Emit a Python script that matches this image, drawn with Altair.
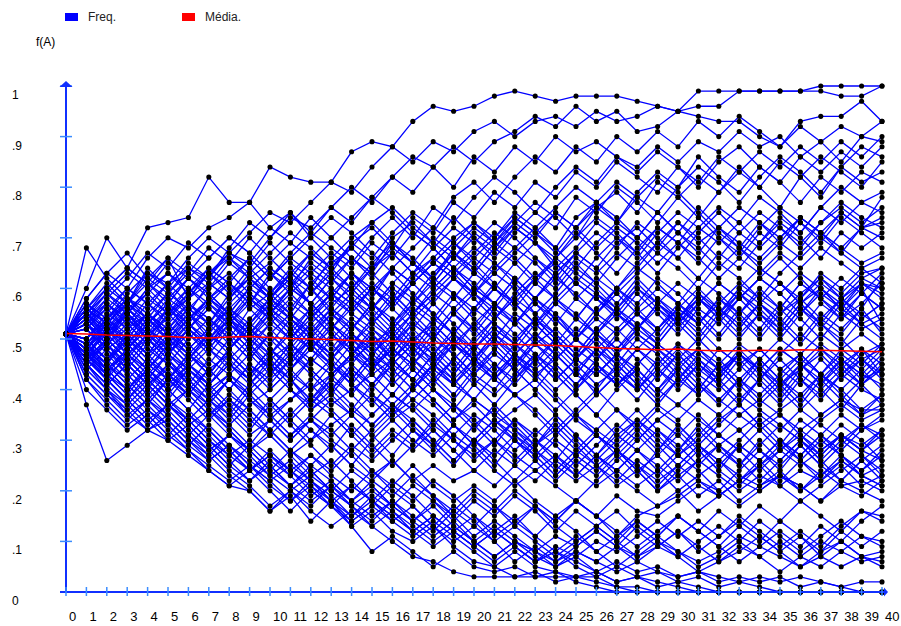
import altair as alt
import pandas as pd

# ---------------- data ----------------
generations = list(range(41))
x_tick_labels = [str(g) for g in generations]
y_tick_values = [0.1, 0.2, 0.3, 0.4, 0.5, 0.6, 0.7, 0.8, 0.9, 1.0]
y_label_values = [0.0, 0.1, 0.2, 0.3, 0.4, 0.5, 0.6, 0.7, 0.8, 0.9, 1.0]
y_label_texts = ["0", ".1", ".2", ".3", ".4", ".5", ".6", ".7", ".8", ".9", "1"]
legend_labels = ["Freq.", "Média."]

# mean frequency (red line)
media = [0.511, 0.510, 0.508, 0.507, 0.506, 0.505, 0.503, 0.502, 0.504, 0.505,
         0.503, 0.501, 0.500, 0.499, 0.497, 0.495, 0.496, 0.494, 0.492, 0.491,
         0.490, 0.490, 0.489, 0.488, 0.487, 0.485, 0.483, 0.481, 0.480, 0.479,
         0.480, 0.478, 0.477, 0.477, 0.478, 0.477, 0.479, 0.478, 0.477, 0.476,
         0.475]

# allele frequency of each population (percent), generations 0..40
a1 = [51,58,63,60,66,70,68,72,74,77, 84,82,81,81,87,89,88,93,96,95, 96,98,99,98,97,98,98,98,97,96, 95,99,99,99,99,99,99,100,100,100, 100]
a2 = [51,55,60,57,63,61,66,70,67,71, 75,73,77,81,79,84,88,85,89,87, 91,93,90,93,94,92,95,93,94,96, 95,96,96,99,99,99,99,99,98,98, 100]
a3 = [51,48,54,58,56,61,64,62,67,65, 70,74,72,76,73,78,82,86,84,88, 85,89,91,94,92,96,93,95,91,92, 95,94,93,93,90,88,93,94,94,97, 93]
b1 = [51,57,54,59,63,60,65,62,68,73, 70,75,71,76,80,77,82,79,84,80, 86,83,88,85,90,87,89,86,84,88, 85,89,87,91,88,90,86,89,92,90, 93]
b2 = [51,46,52,55,50,56,53,58,61,57, 63,60,66,63,69,72,68,74,71,77, 74,79,76,81,78,83,80,85,82,79, 84,81,86,83,87,84,88,85,89,86, 90]
b3 = [51,54,50,56,59,55,60,64,61,66, 62,67,71,68,65,70,74,70,76,73, 78,82,79,75,80,84,81,86,83,87, 84,80,85,88,84,81,86,83,87,84, 88]
b4 = [51,60,70,64,72,73,74,82,77,77, 72,75,70,66,70,73,76,72,69,74, 70,66,71,75,72,78,75,80,77,73, 78,82,79,84,80,85,82,86,83,80, 85]
b5 = [51,52,57,53,49,55,58,63,59,64, 60,56,61,65,68,64,70,73,69,66, 71,68,73,77,74,70,76,79,75,81, 78,74,79,83,80,76,82,78,84,81, 83]
b6 = [51,49,45,51,55,52,57,54,50,56, 59,63,60,66,62,58,64,68,72,69, 73,70,75,72,68,74,77,73,78,75, 80,84,81,77,82,86,83,79,84,88, 86]
b7 = [51,56,61,57,64,60,55,61,58,63, 67,71,68,64,69,66,71,75,72,78, 81,77,82,86,83,88,85,90,87,91, 88,93,90,94,91,88,92,89,85,90, 89]
b8 = [51,50,55,60,57,54,59,63,66,62, 58,63,67,64,60,65,69,66,62,68, 72,69,74,71,67,72,76,73,79,83, 80,86,82,79,84,81,77,82,79,83, 81]
c1 = [51,55,52,48,53,57,62,59,55,60, 64,61,57,62,66,63,69,65,61,66, 70,67,72,69,64,68,73,70,66,71, 75,72,76,73,69,74,71,76,73,77, 75]
c2 = [51,47,43,48,52,49,54,58,55,51, 56,60,57,62,59,64,68,65,70,67, 63,68,65,61,66,70,74,71,67,72, 69,74,70,66,71,68,73,70,75,72, 78]
c3 = [51,56,53,58,55,51,56,53,59,62, 58,54,59,63,60,56,61,65,62,67, 64,69,73,70,75,72,77,74,70,75, 71,76,72,68,73,69,74,71,67,72, 70]
c4 = [51,53,58,62,67,64,69,66,70,67, 72,69,74,70,66,62,67,63,68,72, 69,73,70,66,62,67,64,69,72,68, 73,70,66,71,75,72,68,73,76,73, 76]
c5 = [51,48,53,50,46,51,55,52,57,61, 58,63,60,55,59,56,52,57,61,58, 63,60,65,69,66,71,67,63,68,72, 69,65,70,67,72,76,73,69,74,71, 68]
c6 = [51,54,59,55,60,63,59,64,61,57, 62,66,63,67,64,69,66,71,68,64, 60,65,62,58,63,67,71,68,73,70, 66,71,75,71,68,72,69,73,77,74, 72]
c7 = [51,45,50,54,51,56,52,48,53,57, 54,50,55,59,56,60,57,62,66,63, 59,64,68,65,61,66,63,67,64,69, 73,69,72,76,73,70,74,71,68,72, 74]
c8 = [51,68,62,58,54,59,63,60,65,70, 66,62,67,64,68,73,69,65,61,66, 63,68,72,69,65,61,66,70,67,63, 68,72,69,73,78,75,71,76,80,77, 79]
c9 = [51,50,46,51,47,52,56,53,49,54, 58,55,61,58,63,60,56,61,65,62, 58,54,59,63,60,65,61,66,70,67, 71,68,64,68,65,69,66,70,67,64, 66]
c10 = [51,53,49,45,50,47,52,56,53,58, 55,60,64,61,66,63,59,55,60,64, 61,57,62,58,63,67,64,60,65,69, 66,62,67,64,69,73,70,66,71,68, 71]
c11 = [51,58,63,67,62,66,58,63,67,64, 69,65,62,58,63,59,64,61,57,62, 66,63,67,71,68,64,69,73,70,75, 71,67,72,69,66,70,74,71,75,72, 73]
c12 = [51,49,54,57,53,58,55,50,54,51, 47,52,56,52,57,61,58,63,60,64, 68,65,61,66,63,58,62,59,63,67, 64,60,65,62,58,63,67,71,68,65, 67]
d1 = [51,55,51,56,52,48,53,49,54,58, 55,51,56,60,57,53,58,54,50,55, 59,56,61,57,53,58,55,60,64,61, 57,62,59,55,60,56,61,58,62,59, 63]
d2 = [51,47,52,49,54,50,46,51,48,53, 57,54,50,55,51,47,52,56,53,58, 54,50,55,52,57,61,58,54,59,55, 51,56,53,58,62,59,55,60,57,61, 58]
d3 = [51,54,58,55,51,47,52,56,52,48, 53,57,54,59,55,52,48,53,50,55, 52,48,53,57,54,50,55,52,56,60, 57,53,58,55,51,56,52,57,54,59, 56]
d4 = [51,52,56,60,57,61,57,53,58,62, 59,55,51,56,52,57,54,50,45,50, 46,51,48,53,57,54,59,55,52,57, 54,58,55,51,55,52,57,60,56,53, 55]
d5 = [51,46,42,47,44,49,53,50,55,52, 57,54,50,46,51,48,53,57,54,59, 56,61,57,53,58,55,51,56,52,57, 61,58,54,59,56,52,57,61,58,62, 60]
d6 = [51,56,53,49,45,50,47,43,48,52, 49,54,51,47,52,56,60,57,62,59, 55,60,57,53,49,54,51,47,52,49, 54,58,55,60,57,53,49,54,58,55, 52]
d7 = [51,53,50,55,60,56,52,57,54,49, 44,49,46,51,48,44,49,53,50,55, 51,56,53,58,62,59,55,60,56,52, 57,54,50,55,59,56,61,58,54,57, 61]
d8 = [51,49,53,57,62,59,64,61,66,63, 59,64,60,56,61,57,53,58,55,51, 56,53,49,54,50,46,51,55,52,57, 54,59,56,52,57,53,58,62,59,63, 64]
d9 = [51,55,59,63,60,65,62,58,54,59, 55,60,57,53,49,54,50,55,59,56, 52,57,54,50,55,51,56,60,57,62, 59,55,51,56,52,57,54,50,55,52, 54]
d10 = [51,48,44,40,45,42,47,51,48,53, 50,46,51,55,52,57,53,49,54,51, 56,60,57,62,58,54,59,56,61,57, 53,58,54,50,55,51,56,53,49,54, 57]
d11 = [51,57,54,50,55,52,48,52,56,53, 58,62,59,64,60,56,61,58,63,67, 64,60,56,61,58,62,59,55,60,56, 52,57,61,58,62,59,63,60,56,61, 59]
d12 = [51,50,55,52,57,53,49,45,50,46, 51,55,52,48,53,50,46,42,47,51, 48,53,50,54,51,47,52,56,53,49, 54,50,55,59,55,51,56,52,57,53, 50]
d13 = [51,54,50,46,42,47,51,48,44,49, 53,50,54,58,55,60,56,52,57,53, 49,54,58,55,51,47,52,48,53,50, 55,51,56,53,57,54,50,55,52,56, 62]
d14 = [51,47,51,55,52,56,60,57,61,58, 54,50,55,51,47,52,49,54,58,62, 59,63,60,55,59,64,61,57,62,58, 54,59,55,60,64,61,57,53,58,54, 57]
d15 = [51,53,57,54,50,55,59,63,60,56, 52,48,53,49,45,50,46,51,47,43, 48,52,49,54,50,46,51,48,52,56, 53,49,54,58,54,50,55,59,56,60, 53]
d16 = [51,56,60,64,61,57,62,59,55,51, 56,53,49,54,58,55,51,47,52,48, 53,57,53,58,54,50,46,51,55,52, 56,53,58,54,50,55,58,54,51,56, 51]
d17 = [51,48,52,48,53,57,54,58,55,60, 64,61,65,62,58,54,59,55,51,56, 60,57,62,58,55,50,55,59,55,51, 56,60,56,52,57,61,58,63,60,64, 61]
e1 = [51,49,45,50,46,42,47,43,48,52, 48,44,49,45,41,46,43,48,44,49, 53,49,45,50,47,43,48,44,40,45, 49,46,42,47,44,48,45,41,46,43, 47]
e2 = [51,55,52,48,44,49,45,41,46,42, 47,51,48,53,49,45,50,46,42,38, 43,40,45,49,46,50,47,43,48,44, 40,45,42,47,43,39,44,48,45,41, 44]
e3 = [51,47,43,46,42,47,52,48,53,50, 46,42,37,42,39,44,48,45,50,47, 43,48,44,40,45,41,46,50,46,42, 47,43,48,45,41,37,42,38,43,40, 38]
e4 = [51,53,49,53,58,55,51,47,52,48, 44,49,45,50,54,51,46,42,47,43, 48,52,49,45,50,46,43,47,51,48, 44,40,45,41,46,50,47,43,48,45, 49]
e5 = [51,46,50,54,50,46,41,46,43,47, 51,47,43,39,44,40,45,49,46,42, 38,43,47,44,48,52,49,45,41,46, 42,47,44,40,45,41,37,42,46,43, 41]
e6 = [51,56,52,57,54,50,46,51,47,43, 48,45,50,46,42,47,44,40,45,49, 46,51,47,44,40,44,48,45,50,47, 43,39,43,47,44,48,45,49,46,42, 46]
e7 = [51,50,46,42,46,43,39,44,40,45, 42,46,50,47,51,48,44,40,45,41, 46,43,47,51,48,44,39,43,40,44, 48,44,41,37,42,38,43,40,36,41, 37]
e8 = [51,54,57,53,49,45,50,54,51,47, 43,48,44,40,45,41,46,50,47,52, 48,44,49,46,42,46,50,46,42,38, 42,46,43,48,44,40,45,41,45,48, 43]
e9 = [51,48,53,50,55,51,47,43,48,44, 40,44,49,45,41,37,42,46,43,39, 44,48,44,40,36,40,45,41,45,49, 46,42,38,42,39,43,47,43,40,44, 40]
e10 = [51,52,48,44,49,53,57,54,50,46, 51,47,52,56,53,49,45,49,46,50, 46,42,47,51,47,43,48,52,48,45, 49,45,41,46,42,47,51,48,44,48, 45]
e11 = [51,55,51,47,43,39,44,48,45,41, 46,42,38,42,47,43,39,44,40,36, 41,45,42,47,43,39,35,40,44,40, 45,41,37,42,46,42,38,43,39,35, 39]
e12 = [51,47,52,56,53,57,53,49,54,50, 55,52,48,44,49,53,50,46,51,47, 43,47,44,49,45,41,45,42,38,43, 47,43,40,44,48,44,41,46,42,46, 42]
e13 = [51,49,44,40,44,48,52,49,53,49, 45,41,46,43,47,51,47,52,48,44, 49,45,41,46,50,46,43,47,43,39, 44,40,45,49,46,42,46,43,47,44, 48]
e14 = [51,53,50,46,51,48,44,40,36,41, 45,42,38,43,47,44,48,45,41,46, 42,39,43,47,44,40,44,41,45,49, 46,50,46,42,38,42,39,43,40,36, 36]
e15 = [51,57,53,49,54,50,55,51,56,52, 48,44,48,52,48,45,41,45,49,45, 41,37,42,46,42,46,43,47,44,40, 44,48,45,41,37,41,45,42,38,42, 44]
e16 = [51,46,42,38,43,40,45,42,47,43, 48,44,40,45,42,47,51,48,53,49, 45,50,46,42,47,43,40,45,41,37, 42,39,43,47,44,40,36,40,44,41, 45]
e17 = [51,50,54,51,47,52,48,44,40,45, 41,46,50,47,43,39,35,40,44,41, 45,42,46,43,39,35,39,43,40,44, 41,45,42,38,42,46,42,39,43,47, 49]
f1 = [51,47,43,39,44,40,36,41,37,33, 38,34,30,35,31,35,39,36,32,28, 33,29,34,30,26,31,27,32,36,32, 28,33,29,25,30,26,30,27,31,28, 32]
f2 = [51,45,49,44,40,36,40,37,33,29, 34,30,34,38,35,31,27,32,28,33, 29,25,30,27,31,35,31,27,23,28, 32,28,24,29,26,30,26,23,27,24, 27]
f3 = [51,48,44,48,52,49,45,41,45,42, 38,42,46,43,39,35,39,36,40,36, 32,37,33,29,34,30,26,30,34,31, 27,31,35,32,28,24,29,25,29,33, 30]
f4 = [51,53,48,44,40,45,41,37,42,39, 43,47,44,40,36,41,37,33,29,33, 30,34,31,27,23,27,31,28,32,36, 33,29,25,29,26,22,26,30,27,23, 25]
f5 = [51,44,40,37,41,45,42,38,34,39, 35,31,35,32,28,32,36,32,29,25, 30,26,22,26,30,27,31,28,24,20, 24,28,24,21,25,29,26,22,26,23, 21]
f6 = [51,55,50,46,42,38,43,39,35,40, 44,40,36,40,44,41,45,42,38,34, 38,35,39,35,31,35,32,36,32,28, 33,29,33,37,33,29,34,31,35,32, 34]
f7 = [51,49,45,41,37,42,38,34,38,35, 31,35,39,36,32,28,32,29,33,37, 34,30,26,30,27,23,27,24,28,32, 29,25,29,26,22,26,30,26,22,26, 29]
f8 = [51,52,47,43,39,43,40,44,40,36, 32,36,32,28,33,29,25,29,34,30, 26,30,34,31,35,31,27,31,28,24, 28,32,28,25,29,33,30,26,30,27, 23]
f9 = [51,46,50,46,42,38,34,38,42,38, 34,30,34,31,35,39,36,40,37,33, 29,33,30,26,22,26,23,27,31,27, 31,35,31,28,32,28,32,29,33,30, 26]
f10 = [51,48,52,47,43,47,44,40,36,32, 37,33,29,25,29,26,30,34,30,26, 30,27,31,28,24,28,32,29,33,29, 25,29,26,30,34,30,27,31,28,32, 35]
f11 = [51,54,50,55,51,47,43,39,43,40, 36,40,37,41,37,33,37,34,30,26, 30,34,30,27,23,27,24,28,25,21, 25,29,26,22,26,30,27,31,27,24, 28]
f12 = [51,47,44,48,44,40,44,41,45,42, 38,34,38,35,31,27,31,28,32,28, 24,28,25,29,33,29,25,22,26,23, 27,24,20,24,28,25,29,25,22,26, 22]
f13 = [51,50,46,50,47,43,39,35,39,36, 32,28,32,29,25,30,34,30,27,31, 35,32,28,32,29,25,29,33,30,34, 31,27,31,28,24,28,31,27,31,28, 31]
g1 = [51,44,40,35,38,34,30,27,31,28, 24,28,24,20,24,21,17,21,18,14, 18,15,19,16,12,16,13,10,14,11, 15,12,9,13,10,14,11,8,12,9, 12]
g2 = [51,47,42,38,34,37,33,29,25,29, 25,21,25,22,18,22,19,23,19,16, 20,17,13,17,14,18,15,11,15,17, 19,22,20,17,20,23,21,18,22,20, 18]
g3 = [51,45,41,45,41,37,33,36,32,28, 32,28,25,29,25,22,26,22,19,15, 19,16,20,17,13,10,13,16,12,9, 12,8,11,14,11,8,11,7,10,7, 8]
g4 = [51,48,44,40,44,40,36,32,28,24, 28,24,27,23,20,24,20,17,13,17, 14,10,13,10,7,10,13,10,7,9, 12,9,6,8,11,8,5,8,10,7, 6]
g5 = [51,42,38,34,38,35,31,27,23,20, 16,20,17,21,17,14,18,15,12,16, 13,17,14,11,15,12,8,11,14,11, 15,12,16,13,17,14,18,15,12,16, 14]
g6 = [51,46,49,45,41,37,40,36,32,28, 31,27,23,26,22,18,22,19,15,12, 15,11,14,17,14,18,15,12,9,12, 15,12,9,6,9,12,9,13,10,14, 17]
g7 = [51,44,48,43,39,35,31,35,31,27, 23,26,22,18,14,17,21,18,22,19, 15,12,15,11,8,11,8,5,8,11, 8,5,7,10,7,4,7,10,8,11, 9]
g8 = [51,48,43,39,35,31,35,32,28,24, 27,24,20,17,21,18,14,17,13,10, 13,10,6,9,6,9,12,9,13,10, 7,10,13,10,14,11,8,11,14,11, 10]
g9 = [51,46,42,38,42,38,35,31,27,30, 27,23,27,24,28,24,21,25,21,18, 21,18,22,18,15,18,15,19,16,15, 18,21,19,22,20,23,21,18,21,19, 22]
g10 = [51,43,39,36,40,36,32,28,31,28, 24,21,24,20,17,13,16,13,10,13, 10,7,10,8,5,8,6,9,7,10, 8,6,8,11,9,7,5,7,5,7, 5]
g11 = [51,49,45,41,37,33,29,33,29,25, 22,18,22,19,15,19,16,12,15,12, 9,12,9,6,9,7,10,8,11,14, 11,14,11,15,12,9,12,9,13,16, 15]
g12 = [51,45,41,37,33,37,34,30,26,22, 26,23,19,22,18,21,17,14,18,15, 11,14,11,8,11,9,12,9,6,9, 7,4,6,9,7,10,7,5,8,6, 7]
h1 = [51,42,37,33,36,32,28,25,22,25, 21,18,21,17,13,16,12,10,13,9, 6,5,3,4,2,3,2,1,1,0, 0,0,0,0,0,0,0,0,0,0, 0]
h2 = [51,45,40,36,32,35,31,28,24,21, 17,20,16,13,16,13,10,7,6,4, 3,3,3,3,3,3,3,1,0,0, 0,0,0,0,0,0,0,0,0,0, 0]
h3 = [51,37,26,29,32,30,27,24,21,24, 20,16,20,17,14,17,14,11,14,11, 8,5,8,5,4,3,4,2,3,2, 1,0,0,0,0,0,0,0,0,0, 0]
h4 = [51,40,36,32,35,31,28,24,21,20, 16,19,14,18,13,8,11,8,5,8, 5,4,5,3,4,2,1,0,0,0, 0,0,0,0,0,0,0,0,0,0, 0]
h5 = [51,46,42,38,34,30,33,29,25,22, 25,21,18,21,18,15,18,14,11,14, 10,7,10,7,5,7,4,2,3,1, 2,1,0,0,0,0,0,0,0,0, 0]
h6 = [51,43,39,35,32,34,30,26,29,25, 22,25,22,18,15,18,15,12,9,12, 9,12,9,6,8,5,3,5,3,4, 2,3,1,2,1,0,0,0,0,0, 0]
h7 = [51,48,44,40,36,33,29,26,29,26, 23,20,23,20,17,20,17,14,17,13, 10,13,10,8,6,8,6,4,6,4, 3,4,2,3,2,3,1,2,1,0, 0]
h8 = [51,45,41,45,41,37,34,30,27,24, 27,24,21,18,21,18,15,12,15,12, 9,6,9,6,8,6,4,6,4,5, 3,4,3,2,3,2,3,2,1,2, 2]
k1 = [51,56,60,64,61,66,63,68,65,62, 58,62,57,53,49,45,48,44,40,37, 33,36,32,28,25,22,25,21,24,20, 23,19,22,18,21,23,20,24,21,22, 20]
k2 = [51,46,43,40,44,41,45,49,46,50, 54,58,55,59,63,60,64,61,65,69, 66,70,74,71,75,72,68,72,69,65, 69,66,62,66,63,67,64,68,65,62, 64]
k3 = [51,55,59,56,52,48,44,40,43,39, 35,31,34,30,27,23,26,22,25,22, 24,21,25,22,26,23,27,24,28,25, 22,26,23,20,23,21,24,22,25,21, 23]
k4 = [51,47,51,55,59,63,60,56,52,48, 44,40,36,39,35,31,35,38,42,46, 50,54,58,62,66,63,60,56,60,57, 53,57,61,58,62,66,62,58,55,59, 56]
k5 = [51,53,49,45,41,44,40,36,33,37, 40,44,48,52,56,60,57,61,65,62, 59,55,51,47,43,39,35,31,34,30, 27,30,34,37,33,36,39,35,38,36, 39]
k6 = [51,49,53,57,61,58,62,66,70,67, 63,59,55,51,47,50,46,42,38,34, 37,33,36,39,35,31,27,23,20,17, 20,16,19,22,25,21,18,21,24,27, 24]
k7 = [51,54,51,47,50,46,42,38,35,31, 34,38,42,46,50,47,51,55,59,63, 67,71,68,72,76,80,77,81,78,82, 79,75,71,68,64,61,57,53,50,46, 43]
k8 = [51,46,49,52,55,51,48,52,56,60, 57,61,57,53,50,46,42,38,35,31, 28,24,21,24,21,18,22,26,30,34, 37,34,31,35,38,35,32,35,38,35, 37]
k9 = [51,52,48,51,47,50,54,58,62,66, 62,66,70,74,71,67,63,59,55,51, 47,43,39,36,32,36,40,36,33,37, 34,38,35,39,36,33,30,34,37,34, 36]
k10 = [51,48,45,42,38,42,46,50,54,51, 55,59,63,60,57,53,57,61,65,69, 65,61,57,53,49,45,41,44,48,52, 56,53,57,61,58,55,59,62,58,61, 60]
k11 = [51,55,52,49,45,42,39,35,38,34, 31,27,30,33,36,33,37,41,45,42, 46,50,47,43,46,50,54,51,55,58, 55,52,48,45,48,44,47,51,48,51, 48]
k12 = [51,50,54,58,55,59,56,60,63,59, 56,52,48,45,41,38,34,37,33,30, 27,30,27,24,27,24,21,24,21,24, 20,23,26,23,21,24,20,23,26,23, 21]
k13 = [51,47,44,47,51,54,58,61,58,62, 65,69,66,70,74,78,75,71,68,64, 60,57,53,49,52,48,45,41,44,40, 37,41,38,35,32,35,31,28,31,28, 26]
k14 = [51,53,56,52,48,45,41,38,42,38, 35,38,41,37,40,43,46,50,53,49, 46,42,39,42,38,34,31,28,25,22, 25,22,19,22,25,28,25,28,31,29, 32]
k15 = [51,49,46,49,53,50,54,57,53,50, 47,43,40,43,46,49,52,48,45,41, 38,35,32,29,32,28,25,28,24,27, 23,26,29,32,35,32,36,33,30,33, 31]
k16 = [51,56,53,57,54,51,47,44,47,43, 46,49,53,57,60,64,67,63,66,70, 73,69,66,62,65,61,58,55,51,48, 45,48,44,47,44,41,44,47,43,46, 48]

populations = {
    "a1": a1, "a2": a2, "a3": a3,
    "b1": b1, "b2": b2, "b3": b3, "b4": b4, "b5": b5, "b6": b6, "b7": b7, "b8": b8,
    "c1": c1, "c2": c2, "c3": c3, "c4": c4, "c5": c5, "c6": c6, "c7": c7, "c8": c8,
    "c9": c9, "c10": c10, "c11": c11, "c12": c12,
    "d1": d1, "d2": d2, "d3": d3, "d4": d4, "d5": d5, "d6": d6, "d7": d7, "d8": d8,
    "d9": d9, "d10": d10, "d11": d11, "d12": d12, "d13": d13, "d14": d14, "d15": d15,
    "d16": d16, "d17": d17,
    "e1": e1, "e2": e2, "e3": e3, "e4": e4, "e5": e5, "e6": e6, "e7": e7, "e8": e8,
    "e9": e9, "e10": e10, "e11": e11, "e12": e12, "e13": e13, "e14": e14, "e15": e15,
    "e16": e16, "e17": e17,
    "f1": f1, "f2": f2, "f3": f3, "f4": f4, "f5": f5, "f6": f6, "f7": f7, "f8": f8,
    "f9": f9, "f10": f10, "f11": f11, "f12": f12, "f13": f13,
    "g1": g1, "g2": g2, "g3": g3, "g4": g4, "g5": g5, "g6": g6, "g7": g7, "g8": g8,
    "g9": g9, "g10": g10, "g11": g11, "g12": g12,
    "h1": h1, "h2": h2, "h3": h3, "h4": h4, "h5": h5, "h6": h6, "h7": h7, "h8": h8,
    "k1": k1, "k2": k2, "k3": k3, "k4": k4, "k5": k5, "k6": k6, "k7": k7, "k8": k8,
    "k9": k9, "k10": k10, "k11": k11, "k12": k12, "k13": k13, "k14": k14, "k15": k15,
    "k16": k16,
}
bad = [k for k, v in populations.items() if len(v) != len(generations)]
assert not bad, f"wrong length: {[(k, len(populations[k])) for k in bad]}"

rows = []
for name, vals in populations.items():
    for g, v in zip(generations, vals):
        rows.append({"pop": name, "g": g, "f": v / 100.0})
freq_df = pd.DataFrame(rows)
mean_df = pd.DataFrame({"g": generations, "f": media})
xtick_df = pd.DataFrame({"g": generations, "lab": x_tick_labels})
ytick_df = pd.DataFrame({"f": y_tick_values})
ylab_df = pd.DataFrame({"f": y_label_values, "lab": y_label_texts})
one = pd.DataFrame({"k": [0]})

# ---------------- styling ----------------
W, H = 816, 506
AXIS = "#1030ff"
TICK = "#3a8cff"
FONT = "Liberation Sans"

xs = alt.Scale(domain=[0, 40], nice=False, zero=False)
ys = alt.Scale(domain=[0, 1], nice=False, zero=False)
X = alt.X("g:Q", scale=xs, axis=None)
Y = alt.Y("f:Q", scale=ys, axis=None)

lines = alt.Chart(freq_df).mark_line(color="#0000ff", strokeWidth=1.3).encode(
    x=X, y=Y, detail="pop:N")
dots = alt.Chart(freq_df).mark_circle(color="#000000", size=26, opacity=1).encode(x=X, y=Y)
mean_line = alt.Chart(mean_df).mark_line(color="#ff0000", strokeWidth=1.5).encode(x=X, y=Y)

y_axis_line = alt.Chart(one).mark_rule(color=AXIS, strokeWidth=2).encode(
    x=alt.value(0), y=alt.value(H + 1), y2=alt.value(-2))
x_axis_line = alt.Chart(one).mark_rule(color=AXIS, strokeWidth=2).encode(
    x=alt.value(-6), x2=alt.value(W + 4), y=alt.value(H))
y_arrow = alt.Chart(one).mark_point(
    shape="M-1,0.45L0,-0.45L1,0.45Z", filled=True, color=AXIS, opacity=1, size=170
).encode(x=alt.value(0), y=alt.value(-2))
x_arrow = alt.Chart(one).mark_point(
    shape="M-0.45,-1L0.45,0L-0.45,1Z", filled=True, color=AXIS, opacity=1, size=80
).encode(x=alt.value(W + 4), y=alt.value(H))

y_ticks = alt.Chart(ytick_df).mark_rule(color=TICK, strokeWidth=1.5).encode(
    y=Y, x=alt.value(-6), x2=alt.value(6))
x_ticks = alt.Chart(xtick_df).mark_rule(color=TICK, strokeWidth=1.5).encode(
    x=X, y=alt.value(H - 5), y2=alt.value(H + 4))

y_labels = alt.Chart(ylab_df).mark_text(
    align="left", baseline="middle", dy=9, font=FONT, fontSize=12, color="#000000"
).encode(y=Y, x=alt.value(-54), text="lab:N")
x_labels = alt.Chart(xtick_df).mark_text(
    align="left", baseline="middle", dx=3, font=FONT, fontSize=13, color="#000000"
).encode(x=X, y=alt.value(H + 25), text="lab:N")

f_title = alt.Chart(one).mark_text(
    align="left", baseline="middle", font=FONT, fontSize=12, color="#000000"
).encode(x=alt.value(-30), y=alt.value(-44), text=alt.value("f(A)"))

leg_freq_box = alt.Chart(one).mark_rect(color="#0000ff").encode(
    x=alt.value(-1), x2=alt.value(12), y=alt.value(-73), y2=alt.value(-65))
leg_freq_txt = alt.Chart(one).mark_text(
    align="left", baseline="middle", font=FONT, fontSize=12, color="#222222"
).encode(x=alt.value(22), y=alt.value(-69), text=alt.value(legend_labels[0]))
leg_mean_box = alt.Chart(one).mark_rect(color="#ff0000").encode(
    x=alt.value(116), x2=alt.value(129), y=alt.value(-73), y2=alt.value(-65))
leg_mean_txt = alt.Chart(one).mark_text(
    align="left", baseline="middle", font=FONT, fontSize=12, color="#222222"
).encode(x=alt.value(139), y=alt.value(-69), text=alt.value(legend_labels[1]))

chart = alt.layer(
    lines, dots, mean_line,
    y_axis_line, x_axis_line, y_ticks, x_ticks, y_arrow, x_arrow,
    y_labels, x_labels, f_title,
    leg_freq_box, leg_freq_txt, leg_mean_box, leg_mean_txt,
).properties(
    width=W, height=H,
    padding={"left": 66, "top": 86, "right": 19, "bottom": 34},
    autosize=alt.AutoSizeParams(type="none"),
    background="#ffffff",
).configure_view(stroke=None)

chart.save("out.html", embed_options={"renderer": "svg", "actions": False})
